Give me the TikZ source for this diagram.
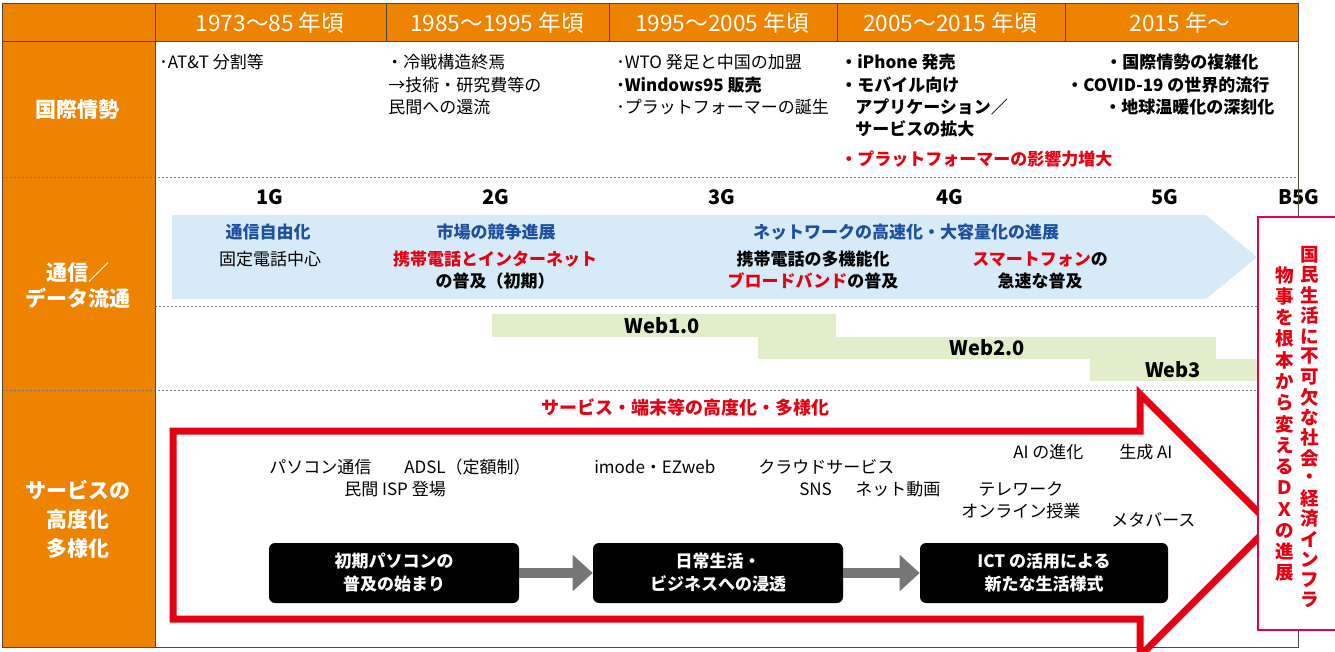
\documentclass[tikz,border=0pt]{standalone}
\usepackage{fontspec}
\setmainfont{Noto Sans CJK JP}
\usetikzlibrary{arrows.meta}
\definecolor{orng}{RGB}{238,131,0}
\definecolor{lblue}{RGB}{214,234,248}
\definecolor{lgreen}{RGB}{226,237,201}
\definecolor{dred}{RGB}{230,0,18}
\definecolor{pred}{RGB}{228,0,79}
\definecolor{tblue}{RGB}{30,80,160}
\definecolor{garr}{RGB}{118,118,118}
\definecolor{bord}{RGB}{80,70,60}
\definecolor{dotc}{RGB}{120,120,120}
\begin{document}
\begin{tikzpicture}[x=0.75pt,y=-0.75pt,
  t/.style={inner sep=0pt,anchor=west,font=\fontsize{12.75pt}{15pt}\selectfont},
  tb/.style={inner sep=0pt,anchor=west,font=\bfseries\fontsize{12.75pt}{15pt}\selectfont},
  c/.style={inner sep=0pt,font=\fontsize{12.75pt}{15pt}\selectfont},
  cb/.style={inner sep=0pt,font=\bfseries\fontsize{12.75pt}{15pt}\selectfont},
  hdr/.style={inner sep=0pt,text=white,font=\fontsize{17pt}{20pt}\selectfont},
  side/.style={inner sep=0pt,text=white,align=center,font=\bfseries\fontsize{15.75pt}{21pt}\selectfont},
  gen/.style={inner sep=0pt,font=\bfseries\fontsize{15pt}{18pt}\selectfont},
  web/.style={inner sep=0pt,font=\bfseries\fontsize{15pt}{18pt}\selectfont},
  bbox/.style={fill=black,rounded corners=4.5pt,minimum width=187.5pt,minimum height=45pt,
    text=white,align=center,inner sep=0pt,font=\bfseries\fontsize{12.75pt}{17.25pt}\selectfont},
  garrow/.style={draw=garr,line width=7.5pt,-{Triangle[length=15pt,width=26.25pt]}},
  dotl/.style={draw=dotc,line width=0.75pt,dash pattern=on 1.5pt off 1.5pt},
  bl/.style={draw=bord,line width=0.75pt},
  vt/.style={inner sep=0pt,text=dred,font=\bfseries\fontsize{13.9pt}{15pt}\selectfont}
]
\useasboundingbox (0,0) rectangle (1335,652);
% fills
\fill[orng] (2,4) rectangle (155,647);
\fill[orng] (155,4) rectangle (1298,42);
\fill[lblue] (172,215) -- (1206,215) -- (1257,257) -- (1206,299) -- (172,299) -- cycle;
\fill[lgreen] (492,314) rectangle (836,337);
\fill[lgreen] (758,337) rectangle (1216,359);
\fill[lgreen] (1090,359) rectangle (1258,381);
% dotted lines
\draw[dotl] (2,178) -- (1298,178);
\draw[dotl] (155,307) -- (1257,307);
\draw[dotl] (2,390) -- (1257,390);
% header
\node[hdr] (h1) at (270,23) {1973～85 年頃};
\node[hdr] (h2) at (497,23) {1985～1995 年頃};
\node[hdr] (h3) at (722,23) {1995～2005 年頃};
\node[hdr] (h4) at (950,23) {2005～2015 年頃};
\node[hdr] (h5) at (1180,23) {2015 年～};
% side labels
\node[side] (s1) at (78,110) {国際情勢};
\node[side,font=\bfseries\fontsize{15.75pt}{19.5pt}\selectfont] (s2) at (78,285) {通信／\\データ流通};
\node[side,font=\bfseries\fontsize{15.75pt}{21.75pt}\selectfont] (s3) at (78,519) {サービスの\\高度化\\多様化};
% row 1
\node[t] (a1) at (159,62) {･AT\&T 分割等};
\node[t] (b1t) at (386,62) {・冷戦構造終焉};
\node[t] (b2t) at (388,85) {→技術・研究費等の};
\node[t] (b3t) at (388,107) {民間への還流};
\node[t] (c1) at (616,62) {･WTO 発足と中国の加盟};
\node[tb] (c2) at (616,85) {･Windows95 販売};
\node[t] (c3) at (616,107) {･プラットフォーマーの誕生};
\node[tb] (d1) at (840,62) {・iPhone 発売};
\node[tb] (d2) at (840,85) {・モバイル向け};
\node[tb] (d3) at (855,107) {アプリケーション／};
\node[tb] (d4) at (855,129) {サービスの拡大};
\node[tb,text=dred] (d5) at (840,159) {・プラットフォーマーの影響力増大};
\node[tb] (e1) at (1105,62) {・国際情勢の複雑化};
\node[tb] (e2) at (1066,85) {・COVID-19 の世界的流行};
\node[tb] (e3) at (1104,107) {・地球温暖化の深刻化};
% row 2
\node[gen] (g1) at (270,197) {1G};
\node[gen] (g2) at (496,197) {2G};
\node[gen] (g3) at (722,197) {3G};
\node[gen] (g4) at (950,197) {4G};
\node[gen] (g5) at (1165,197) {5G};
\node[gen] (g6) at (1299,197) {B5G};
\node[cb,text=tblue] (m1) at (268,232) {通信自由化};
\node[cb,text=tblue] (m2) at (496,232) {市場の競争進展};
\node[cb,text=tblue] (m3) at (906,232) {ネットワークの高速化・大容量化の進展};
\node[c] (n1) at (270,259) {固定電話中心};
\node[cb,text=dred] (n2) at (495,259) {携帯電話とインターネット};
\node[cb] (n3) at (495,281) {の普及（初期）};
\node[cb] (n4) at (813,259) {携帯電話の多機能化};
\node[cb] (n5) at (813,281) {{\color{dred}ブロードバンド}の普及};
\node[cb] (n6) at (1040,259) {{\color{dred}スマートフォン}の};
\node[cb] (n7) at (1040,281) {急速な普及};
\node[web] (w1) at (662,326) {Web1.0};
\node[web] (w2) at (987,348) {Web2.0};
\node[web] (w3) at (1173,370) {Web3};
% row 3
\node[cb,text=dred,font=\bfseries\fontsize{13.5pt}{16pt}\selectfont] (rl) at (685,408) {サービス・端末等の高度化・多様化};
\node[t] (p1) at (269,467) {パソコン通信};
\node[t] (p2) at (404,467) {ADSL（定額制）};
\node[t] (p3) at (344,489) {民間 ISP 登場};
\node[t] (p4) at (594,467) {imode・EZweb};
\node[t] (p5) at (758,467) {クラウドサービス};
\node[t] (p6) at (799,489) {SNS};
\node[t] (p7) at (855,489) {ネット動画};
\node[t] (p8) at (1013,452) {AI の進化};
\node[t] (p9) at (1119,452) {生成 AI};
\node[t] (p10) at (978,489) {テレワーク};
\node[t] (p11) at (961,511) {オンライン授業};
\node[t] (p12) at (1111,520) {メタバース};
\node[bbox] (k1) at (394,573) {初期パソコンの\\普及の始まり};
\node[bbox] (k2) at (718,573) {日常生活・\\ビジネスへの浸透};
\node[bbox,minimum width=186pt] (k3) at (1044,573) {ICT の活用による\\新たな生活様式};
\draw[garrow] (k1) -- (k2);
\draw[garrow] (k2) -- (k3);
% borders
\draw[bl] (2,4) rectangle (1298,647);
\draw[bl] (2,42) -- (1298,42);
\draw[bl] (155,4) -- (155,647);
\foreach \xx in {386,609,837,1065} \draw[bl] (\xx,4) -- (\xx,42);
% red arrow
\draw[dred,line width=5.25pt,miter limit=10] (173,431) -- (1140,431) -- (1140,394) -- (1271,525) -- (1140,656) -- (1140,619) -- (173,619) -- cycle;
% red box
\draw[pred,line width=1.5pt,fill=white] (1258,217) rectangle (1360,630);
\foreach \ch [count=\i] in {国,民,生,活,に,不,可,欠,な,社,会,・,経,済,イ,ン,フ,ラ}
  \node[vt] (va\i) at (1310,{255+(\i-1)*20.3}) {\ch};
\foreach \ch [count=\i] in {物,事,を,根,本,か,ら,変,え,る,Ｄ,Ｘ,の,進,展}
  \node[vt] (vb\i) at (1285,{275+(\i-1)*21.3}) {\ch};
\end{tikzpicture}
\end{document}
